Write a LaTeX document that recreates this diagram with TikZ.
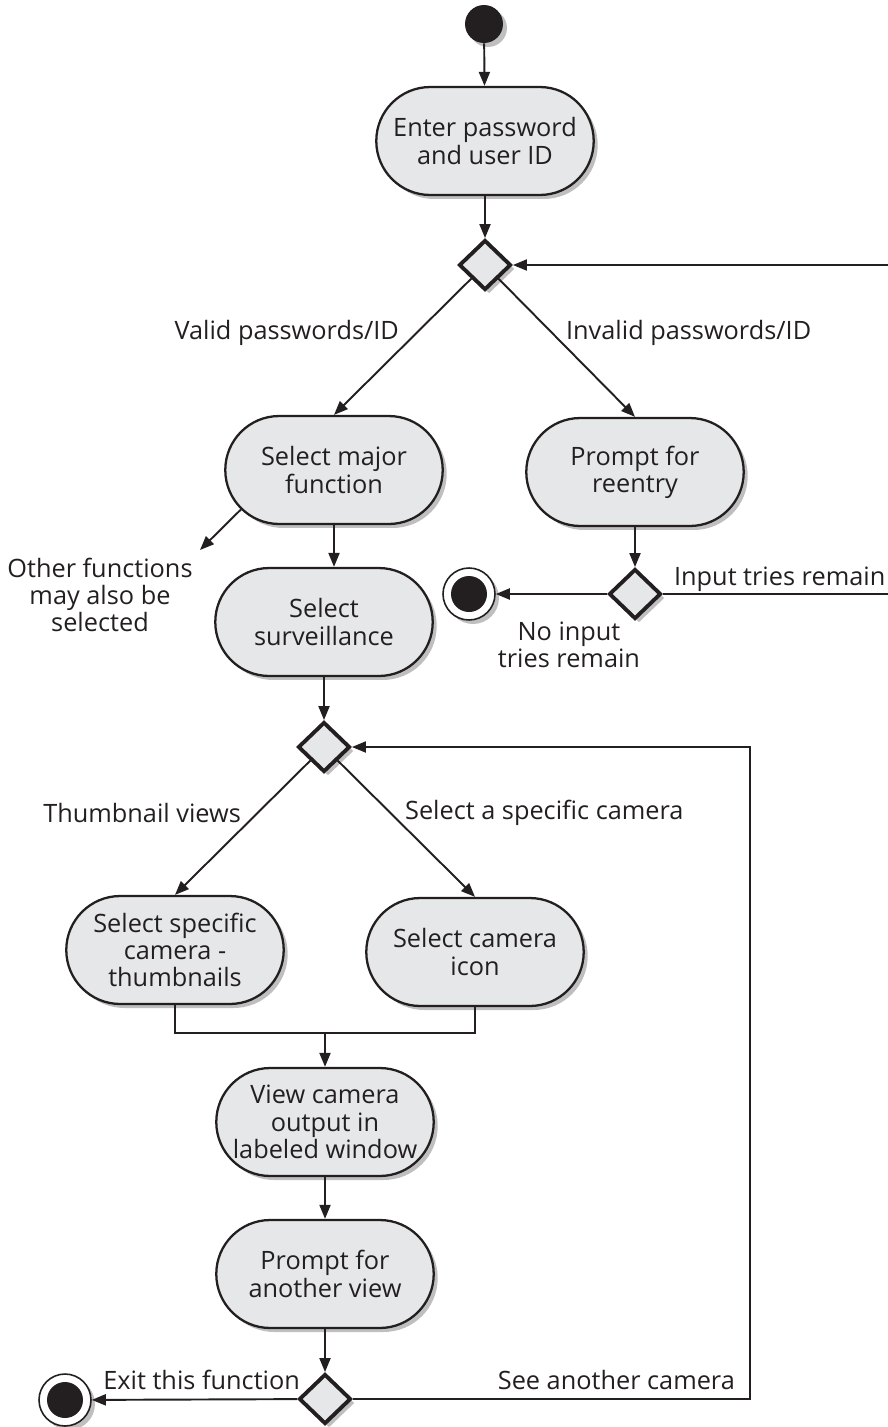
\documentclass[tikz,border=0pt]{standalone}
\usepackage{fontspec}
\setmainfont{Open Sans}
\usepackage{tikz}
\usetikzlibrary{arrows.meta,positioning,calc,shapes.geometric,shapes.misc,shadows}
\definecolor{inkblack}{HTML}{231F20}
\definecolor{boxgray}{HTML}{E6E7E8}

\begin{document}
\begin{tikzpicture}[x=0.02cm,y=-0.02cm,
    font=\fontsize{14.4}{15.5}\selectfont,
    every node/.style={text=inkblack},
    arr/.style={-{Triangle[length=0.28cm,width=0.22cm]},line width=1.1pt,draw=inkblack},
    plainline/.style={line width=1.1pt,draw=inkblack},
    shade/.style={drop shadow={shadow xshift=0.08cm,shadow yshift=-0.08cm,fill=black!50}},
    activity/.style={rounded rectangle,draw=inkblack,line width=1.3pt,fill=boxgray,
      minimum width=4.42cm,minimum height=2.16cm,align=center,inner sep=1pt,shade},
    decision/.style={diamond,draw=inkblack,line width=2.2pt,fill=boxgray,
      minimum width=1.04cm,minimum height=1.0cm,inner sep=0pt,shade},
    startdot/.style={circle,fill=inkblack,minimum size=0.76cm,inner sep=0pt,shade},
    endring/.style={circle,draw=inkblack,line width=0.9pt,fill=white,minimum size=1.04cm,inner sep=0pt,shade},
    enddot/.style={circle,fill=inkblack,minimum size=0.72cm,inner sep=0pt},
    guard/.style={inner sep=1pt,align=center}]
  \useasboundingbox (0,0) rectangle (888,1427);
  % Start and login
  \node[startdot] (start) at (484,24) {};
  \node[activity] (enter) at (485,141) {Enter password\\and user ID};
  \node[decision] (d1) at (485,265) {};
  % Two branches after the check
  \node[activity] (major) at (334,470) {Select major\\function};
  \node[activity] (reentry) at (635,472) {Prompt for\\reentry};
  \node[decision] (d2) at (635,594) {};
  \node[endring] (fin1) at (469,594) {};
  \node[enddot] at (fin1) {};
  \node[activity] (surv) at (324,622) {Select\\surveillance};
  \node[decision] (d3) at (324,747) {};
  % Camera selection
  \node[activity] (thumb) at (175,950) {Select specific\\camera -\\thumbnails};
  \node[activity] (icon) at (475,952) {Select camera\\icon};
  \coordinate (jn) at (325,1033);
  \node[activity] (view) at (325,1122) {View camera\\output in\\labeled window};
  \node[activity] (another) at (325,1274) {Prompt for\\another view};
  \node[decision] (d4) at (325,1399) {};
  \node[endring] (fin2) at (65,1400) {};
  \node[enddot] at (fin2) {};
  % Free ends of the loops
  \coordinate (loopa) at (892,430);
  \coordinate (loopb) at (750,1000);
  \coordinate (other) at (200,550);
  % Guard labels
  \node[guard,anchor=east] (lvalid) at (401,333) {Valid passwords/ID};
  \node[guard,anchor=west] (linvalid) at (564,333) {Invalid passwords/ID};
  \node[guard] (lother) at (100,595) {Other functions\\may also be\\selected};
  \node[guard] (lnotry) at (569,645) {No input\\tries remain};
  \node[guard,anchor=west] (ltry) at (672,579) {Input tries remain};
  \node[guard,anchor=east] (lthumb) at (243,813) {Thumbnail views};
  \node[guard,anchor=west] (lcam) at (403,813) {Select a specific camera};
  \node[guard,anchor=east] (lexit) at (302,1380) {Exit this function};
  \node[guard,anchor=east] (lsee) at (737,1380) {See another camera};
  % Flows
  \draw[arr] (start) -- (enter);
  \draw[arr] (enter) -- (d1);
  \draw[arr] (d1) -- (major.north);
  \draw[arr] (d1) -- (reentry.north);
  \draw[arr] (major.-157) -- (other);
  \draw[arr] (major.south) -- (major.south |- surv.north);
  \draw[arr] (reentry) -- (d2);
  \draw[arr] (d2) -- (fin1);
  \draw[arr] (d2.east) -| (loopa) |- (d1.east);
  \draw[arr] (surv) -- (d3);
  \draw[arr] (d3) -- (thumb.north);
  \draw[arr] (d3) -- (icon.north);
  \draw[plainline] (thumb.south) |- (jn) -| (icon.south);
  \draw[arr] (jn) -- (view);
  \draw[arr] (view) -- (another);
  \draw[arr] (another) -- (d4);
  \draw[arr] (d4) -- (fin2);
  \draw[arr] (d4.east) -| (loopb) |- (d3.east);
\end{tikzpicture}
\end{document}
